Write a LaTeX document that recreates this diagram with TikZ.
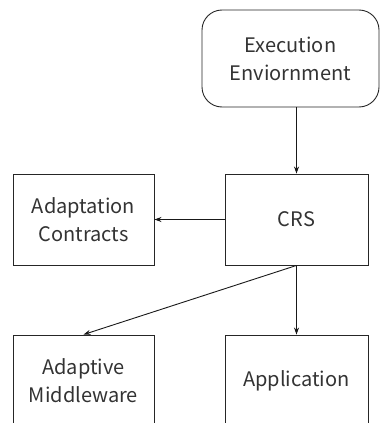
\documentclass[tikz,border=0pt]{standalone}
\usepackage{fontspec}
\setmainfont{Noto Sans CJK JP}
\usetikzlibrary{arrows.meta}
\begin{document}
\begin{tikzpicture}[x=1pt,y=-1pt,
  box/.style={draw=black!85, line width=0.9pt, text=black!80,
    font=\fontsize{20}{28}\selectfont, align=center, inner sep=0pt},
  link/.style={draw=black!90, line width=0.9pt, -{Stealth[length=7pt,width=5pt]}}]
  \useasboundingbox (0,0) rectangle (380,423);
  \clip (0,0) rectangle (380,423);
  % environment at the top
  \node[box, rounded corners=20pt, minimum width=177pt, minimum height=97pt]
    (env) at (290.5,58.5) {Execution\\Enviornment};
  % middle row
  \node[box, minimum width=143pt, minimum height=91pt] (crs) at (296.5,219.5) {CRS};
  \node[box, minimum width=141pt, minimum height=91pt] (ac) at (83.5,219.5) {Adaptation\\Contracts};
  % bottom row (runs off the lower edge)
  \node[box, minimum width=141pt, minimum height=92pt] (am) at (83.5,381) {Adaptive\\Middleware};
  \node[box, minimum width=143pt, minimum height=92pt] (app) at (296.5,381) {Application};
  % connectors
  \draw[link] (env.south -| crs.north) -- (crs.north);
  \draw[link] (crs.west) -- (ac.east);
  \draw[link] (crs.south) -- (am.north);
  \draw[link] (crs.south) -- (app.north);
\end{tikzpicture}
\end{document}
